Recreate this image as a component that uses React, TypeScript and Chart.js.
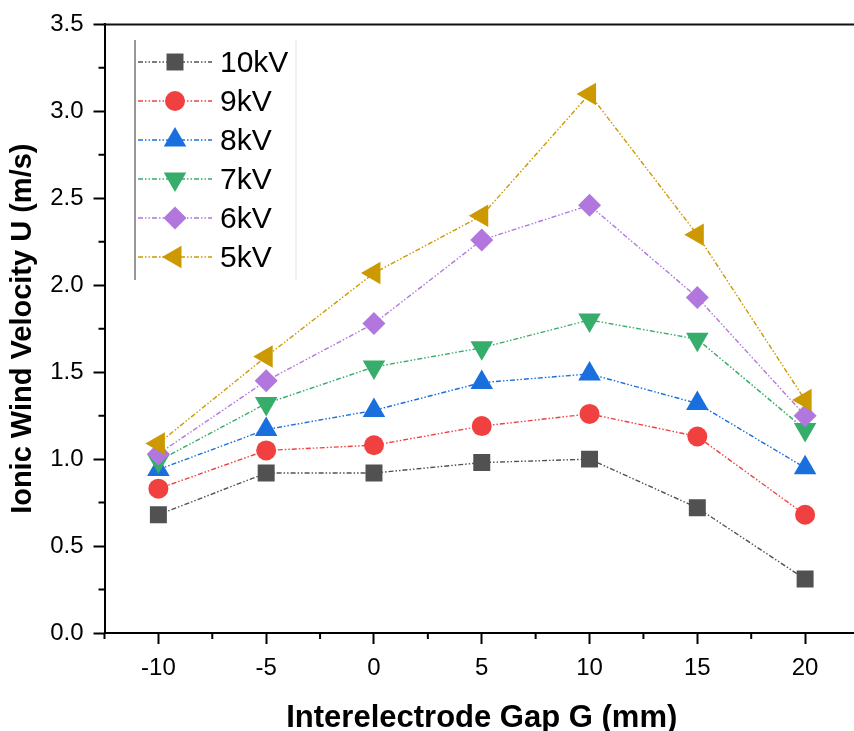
import React, { useEffect, useRef } from 'react';
import { Chart, registerables } from 'chart.js';
import { drawPoint } from 'chart.js/helpers';

Chart.register(...registerables);

// ---- data ----
const gapValues = [-10, -5, 0, 5, 10, 15, 20];
const seriesLabels = ['10kV', '9kV', '8kV', '7kV', '6kV', '5kV'];
const u10kV = [0.68, 0.92, 0.92, 0.98, 1.0, 0.72, 0.31];
const u9kV = [0.83, 1.05, 1.08, 1.19, 1.26, 1.13, 0.68];
const u8kV = [0.94, 1.17, 1.28, 1.44, 1.49, 1.32, 0.95];
const u7kV = [0.99, 1.32, 1.53, 1.64, 1.8, 1.69, 1.17];
const u6kV = [1.03, 1.45, 1.78, 2.26, 2.46, 1.93, 1.25];
const u5kV = [1.09, 1.59, 2.07, 2.4, 3.1, 2.29, 1.34];
const seriesValues = [u10kV, u9kV, u8kV, u7kV, u6kV, u5kV];

const xTickValues = [-10, -5, 0, 5, 10, 15, 20];
const xMinorTicks = [-12.5, -7.5, -2.5, 2.5, 7.5, 12.5, 17.5, 22.5];
const yMinorTicks = [0.25, 0.75, 1.25, 1.75, 2.25, 2.75, 3.25];

// ---- styles ----
const colors = ['#515151', '#F14040', '#1A6FDF', '#37AD6B', '#B177DE', '#CC9900'];
const pointStyles = ['rect', 'circle', 'triangle', 'triangle', 'rectRot', 'triangle'];
const rotations = [0, 0, 0, 180, 0, -90];
const radii = [12, 10, 13, 13, 11.5, 13];
const dash = [5, 2, 1.5, 2, 1.5, 2];
const FONT = '"Liberation Sans", Arial, sans-serif';

const decorPlugin = {
  id: 'decor',
  afterDraw(chart: any) {
    const { ctx, chartArea: ca, scales } = chart;
    const xs = scales.x;
    const ys = scales.y;
    ctx.save();
    ctx.strokeStyle = '#111';
    ctx.lineWidth = 2;
    ctx.beginPath();
    ctx.moveTo(ca.left - 1, ca.top);
    ctx.lineTo(ca.right, ca.top);
    ctx.stroke();
    ctx.strokeStyle = '#000';
    ctx.beginPath();
    xMinorTicks.forEach((v) => {
      const px = xs.getPixelForValue(v);
      ctx.moveTo(px, ca.bottom);
      ctx.lineTo(px, ca.bottom + 6);
    });
    yMinorTicks.forEach((v) => {
      const py = ys.getPixelForValue(v);
      ctx.moveTo(ca.left, py);
      ctx.lineTo(ca.left - 6, py);
    });
    ctx.stroke();

    // legend
    const lx = ca.left + 30.5;
    const top = 40;
    const bottom = 280;
    ctx.lineWidth = 1;
    ctx.setLineDash([]);
    ctx.strokeStyle = '#333';
    ctx.beginPath();
    ctx.moveTo(lx, top);
    ctx.lineTo(lx, bottom);
    ctx.stroke();
    ctx.strokeStyle = '#e2e2e2';
    ctx.beginPath();
    ctx.moveTo(lx + 161, top);
    ctx.lineTo(lx + 161, bottom);
    ctx.stroke();

    chart.data.datasets.forEach((ds: any, i: number) => {
      const y = 62 + i * 39;
      ctx.strokeStyle = ds.borderColor;
      ctx.lineWidth = 1.4;
      ctx.setLineDash(dash);
      ctx.beginPath();
      ctx.moveTo(lx + 3, y);
      ctx.lineTo(lx + 77, y);
      ctx.stroke();
      ctx.setLineDash([]);
      ctx.fillStyle = ds.pointBackgroundColor;
      drawPoint(ctx, { pointStyle: ds.pointStyle, rotation: ds.pointRotation, radius: ds.pointRadius, borderWidth: 0 } as any, lx + 40, y);
      ctx.fillStyle = '#000';
      ctx.font = `30px ${FONT}`;
      ctx.textBaseline = 'middle';
      ctx.textAlign = 'left';
      ctx.fillText(ds.label, lx + 85, y + 1.5);
    });
    ctx.restore();
  },
};

export default function App() {
  const ref = useRef<HTMLCanvasElement>(null);
  useEffect(() => {
    if (!ref.current) return;
    Chart.defaults.color = '#000';
    const datasets = seriesLabels.map((label, i) => ({
      label,
      data: gapValues.map((x, j) => ({ x, y: seriesValues[i][j] })),
      borderColor: colors[i],
      backgroundColor: colors[i],
      pointBackgroundColor: colors[i],
      pointBorderWidth: 0,
      pointStyle: pointStyles[i],
      pointRotation: rotations[i],
      pointRadius: radii[i],
      pointHoverRadius: radii[i],
      borderWidth: 1.4,
      borderDash: dash,
      tension: 0,
      order: seriesLabels.length - i,
    }));
    const tickFont = { family: FONT, size: 24 };
    const chart = new Chart(ref.current, {
      type: 'line',
      data: { datasets },
      options: {
        animation: false,
        responsive: false,
        devicePixelRatio: 1,
        layout: { padding: { left: 0, top: 21, right: 8, bottom: 0 } },
        plugins: { legend: { display: false }, tooltip: { enabled: false } },
        scales: {
          x: {
            type: 'linear',
            min: -12.5,
            max: 22.5,
            afterBuildTicks: (s: any) => {
              s.ticks = xTickValues.map((v) => ({ value: v }));
            },
            afterFit: (s: any) => {
              s.height = 107;
            },
            ticks: { font: tickFont, color: '#000', padding: 10, maxRotation: 0 },
            grid: { drawOnChartArea: false, tickLength: 11, tickWidth: 2, tickColor: '#000' },
            border: { color: '#000', width: 2 },
            title: {
              display: true,
              text: 'Interelectrode Gap G (mm)',
              color: '#000',
              font: { family: FONT, size: 31, weight: 'bold' },
              padding: { top: 0, bottom: 3 },
            },
          },
          y: {
            type: 'linear',
            min: 0,
            max: 3.5,
            ticks: {
              stepSize: 0.5,
              font: tickFont,
              color: '#000',
              padding: 10,
              callback: (v: any) => Number(v).toFixed(1),
            },
            afterFit: (s: any) => {
              s.width = 104.5;
            },
            grid: { drawOnChartArea: false, tickLength: 11, tickWidth: 2, tickColor: '#000' },
            border: { color: '#000', width: 2 },
            title: {
              display: true,
              text: 'Ionic Wind Velocity U (m/s)',
              color: '#000',
              font: { family: FONT, size: 29, weight: 'bold' },
              padding: { top: 6, bottom: 0 },
            },
          },
        },
      } as any,
      plugins: [decorPlugin],
    });
    return () => chart.destroy();
  }, []);
  return (
    <div style={{ position: 'fixed', left: 0, top: 0, width: 854, height: 731, overflow: 'hidden', background: '#fff' }}>
      <canvas ref={ref} width={872} height={740} style={{ width: 872, height: 740, display: 'block' }} />
    </div>
  );
}
